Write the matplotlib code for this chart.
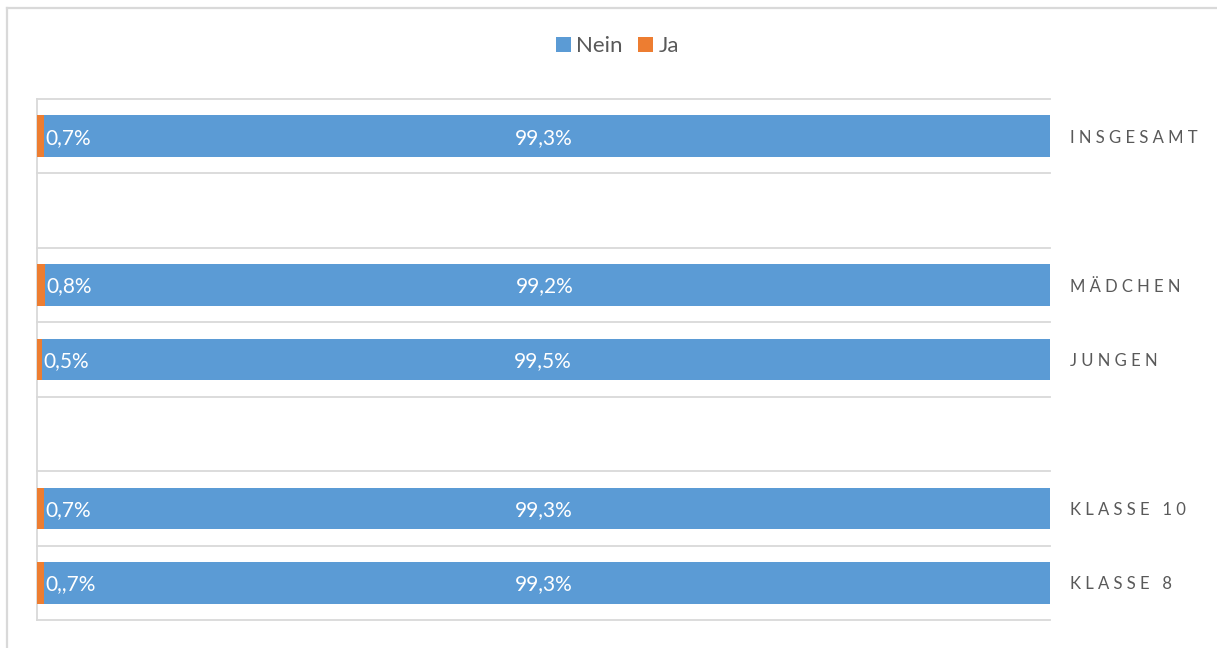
import matplotlib
matplotlib.use("Agg")
import matplotlib.pyplot as plt
from matplotlib.patches import Patch
from matplotlib.lines import Line2D

plt.rcParams['font.family'] = ['Lato', 'DejaVu Sans']

categories = ["INSGESAMT", "", "MÄDCHEN", "JUNGEN", "", "KLASSE 10", "KLASSE 8"]
ja = [0.7, None, 0.8, 0.5, None, 0.7, 0.7]
nein = [99.3, None, 99.2, 99.5, None, 99.3, 99.3]
ja_labels = ["0,7%", "", "0,8%", "0,5%", "", "0,7%", "0,,7%"]
nein_labels = ["99,3%", "", "99,2%", "99,5%", "", "99,3%", "99,3%"]

blue = "#5B9BD5"
orange = "#ED7D31"
grid = "#D9D9D9"
textgray = "#595959"

W, H = 1217, 648
fig = plt.figure(figsize=(W / 100, H / 100), dpi=100)
fig.patch.set_facecolor("white")

left, right, top, bottom = 37, 1050, 99, 620
ax = fig.add_axes([left / W, 1 - bottom / H, (right - left) / W, (bottom - top) / H])

n = len(categories)
for i in range(n):
    if ja[i] is None:
        continue
    ax.barh(i, ja[i], height=0.56, color=orange, zorder=3)
    ax.barh(i, nein[i], left=ja[i], height=0.56, color=blue, zorder=3)
    ax.text(ja[i] + 0.1, i + 0.02, ja_labels[i], ha="left", va="center",
            color="white", fontsize=15, zorder=4)
    ax.text(ja[i] + nein[i] / 2 - 0.3, i + 0.02, nein_labels[i], ha="center", va="center",
            color="white", fontsize=15, zorder=4)
    spaced = " ".join(list(categories[i]))
    ax.text(102.0, i + 0.02, spaced, ha="left", va="center", color=textgray,
            fontsize=12, transform=ax.transData, clip_on=False)

ax.set_xlim(0, 100)
ax.set_ylim(n - 0.5, -0.5)
for b in range(n + 1):
    ax.axhline(b - 0.5, color=grid, lw=1.3, zorder=1, clip_on=False)
ax.set_xticks([])
ax.set_yticks([])
for s in ["top", "right", "bottom"]:
    ax.spines[s].set_visible(False)
ax.spines["left"].set_color(grid)
ax.spines["left"].set_linewidth(1.3)

handles = [Patch(facecolor=blue, edgecolor="none", label="Nein"),
           Patch(facecolor=orange, edgecolor="none", label="Ja")]
fig.legend(handles=handles, loc="center", bbox_to_anchor=(617.5 / W, 1 - 46 / H),
           ncol=2, frameon=False, fontsize=16, handlelength=0.65, handleheight=0.65,
           handletextpad=0.25, columnspacing=0.7, labelcolor=textgray,
           borderpad=0, borderaxespad=0)

# outer chart border (top and left visible)
fig.add_artist(Line2D([7 / W, 7 / W], [1 - 8 / H, 0], transform=fig.transFigure,
                      color=grid, lw=1.6))
fig.add_artist(Line2D([7 / W, 1], [1 - 8 / H, 1 - 8 / H], transform=fig.transFigure,
                      color=grid, lw=1.6))

fig.savefig("out.png", dpi=100, facecolor="white")
